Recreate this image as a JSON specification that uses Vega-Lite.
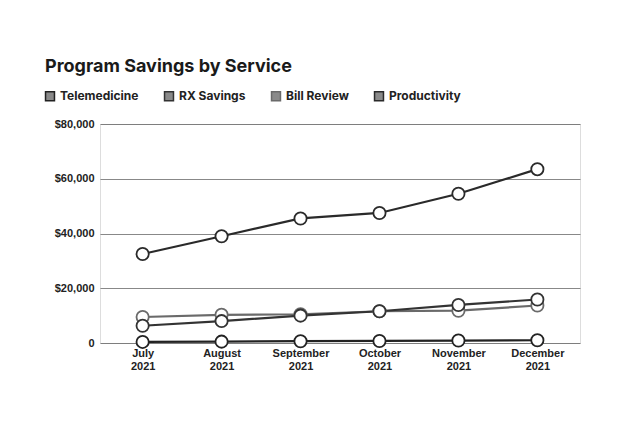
{
  "$schema": "https://vega.github.io/schema/vega-lite/v6.json",
  "width": 480,
  "height": 219,
  "autosize": {"type": "none"},
  "padding": {"left": 100, "top": 124, "right": 40, "bottom": 82},
  "background": "#ffffff",
  "title": {
    "text": "Program Savings by Service",
    "anchor": "start",
    "frame": "group",
    "dx": -55,
    "offset": 14,
    "font": "Inter",
    "fontSize": 18,
    "fontWeight": 700,
    "color": "#1a1a1a"
  },
  "data": {
    "values": [
      {"month": "July 2021", "series": "Productivity", "value": 32500},
      {"month": "August 2021", "series": "Productivity", "value": 39000},
      {"month": "September 2021", "series": "Productivity", "value": 45500},
      {"month": "October 2021", "series": "Productivity", "value": 47500},
      {"month": "November 2021", "series": "Productivity", "value": 54500},
      {"month": "December 2021", "series": "Productivity", "value": 63500},
      {"month": "July 2021", "series": "Bill Review", "value": 9500},
      {"month": "August 2021", "series": "Bill Review", "value": 10300},
      {"month": "September 2021", "series": "Bill Review", "value": 10500},
      {"month": "October 2021", "series": "Bill Review", "value": 11600},
      {"month": "November 2021", "series": "Bill Review", "value": 11800},
      {"month": "December 2021", "series": "Bill Review", "value": 13700},
      {"month": "July 2021", "series": "RX Savings", "value": 6300},
      {"month": "August 2021", "series": "RX Savings", "value": 8000},
      {"month": "September 2021", "series": "RX Savings", "value": 10000},
      {"month": "October 2021", "series": "RX Savings", "value": 11600},
      {"month": "November 2021", "series": "RX Savings", "value": 13900},
      {"month": "December 2021", "series": "RX Savings", "value": 15900},
      {"month": "July 2021", "series": "Telemedicine", "value": 400},
      {"month": "August 2021", "series": "Telemedicine", "value": 500},
      {"month": "September 2021", "series": "Telemedicine", "value": 650},
      {"month": "October 2021", "series": "Telemedicine", "value": 750},
      {"month": "November 2021", "series": "Telemedicine", "value": 900},
      {"month": "December 2021", "series": "Telemedicine", "value": 1000}
    ]
  },
  "encoding": {
    "x": {
      "field": "month",
      "type": "ordinal",
      "sort": null,
      "scale": {"type": "point", "padding": 0.54},
      "axis": {
        "title": null,
        "labelAngle": 0,
        "labelExpr": "split(datum.label, ' ')",
        "labelFont": "Liberation Sans",
        "labelFontWeight": "bold",
        "labelFontSize": 11,
        "labelColor": "#222",
        "labelLineHeight": 13,
        "domain": false,
        "ticks": false,
        "grid": false,
        "labelPadding": 4
      }
    },
    "y": {
      "field": "value",
      "type": "quantitative",
      "scale": {"domain": [0, 80000], "nice": false},
      "axis": {
        "title": null,
        "values": [0, 20000, 40000, 60000, 80000],
        "labelExpr": "datum.value == 0 ? '0' : '$' + format(datum.value, ',')",
        "labelFont": "Liberation Sans",
        "labelFontWeight": "bold",
        "labelFontSize": 11,
        "labelColor": "#222",
        "domain": false,
        "ticks": false,
        "labelPadding": 6,
        "gridColor": "#555",
        "gridWidth": 0.7
      }
    },
    "color": {
      "field": "series",
      "type": "nominal",
      "scale": {
        "domain": ["Telemedicine", "RX Savings", "Bill Review", "Productivity"],
        "range": ["#222222", "#333333", "#6a6a6a", "#2a2a2a"]
      },
      "legend": {
        "title": null,
        "orient": "none",
        "direction": "horizontal",
        "legendX": -56,
        "legendY": -34,
        "symbolType": "square",
        "symbolSize": 80,
        "labelFont": "Inter",
        "labelFontWeight": "bold",
        "labelFontSize": 12,
        "labelColor": "#222",
        "columnPadding": 22,
        "labelOffset": 4,
        "encode": {
          "symbols": {
            "update": {
              "fill": {"value": "#8a8a8a"},
              "stroke": {"value": "#111"},
              "strokeWidth": {"value": 1.5}
            }
          }
        }
      }
    }
  },
  "layer": [
    {"mark": {"type": "line", "strokeWidth": 2.2}},
    {"mark": {"type": "point", "filled": false, "fill": "white", "fillOpacity": 1, "size": 150, "strokeWidth": 1.8, "opacity": 1}}
  ]
}
